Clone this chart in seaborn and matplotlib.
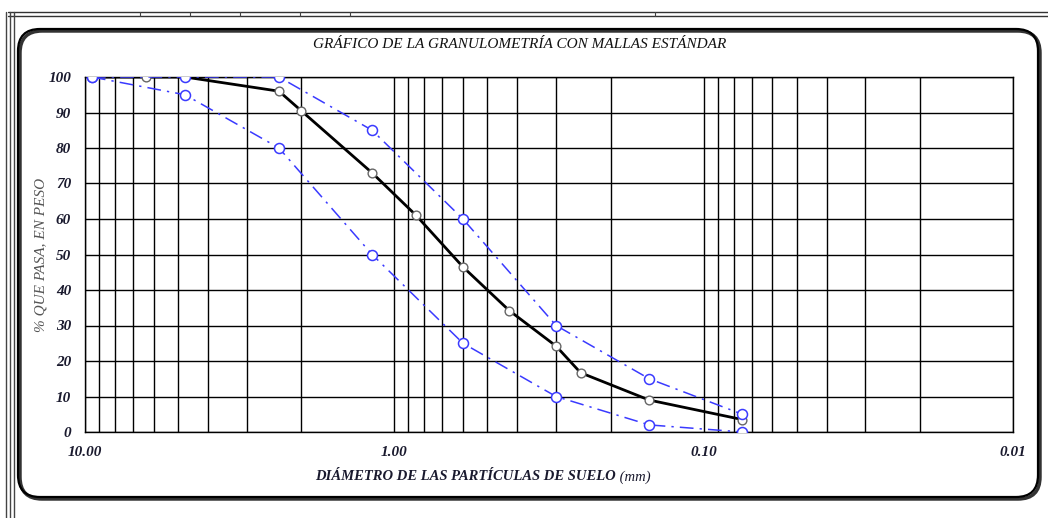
import numpy as np
import pandas as pd
import matplotlib
matplotlib.use("Agg")
import matplotlib.pyplot as plt
import seaborn as sns
from matplotlib.patches import FancyBboxPatch
from matplotlib.lines import Line2D
from matplotlib.ticker import FixedLocator, LogLocator, NullFormatter, FixedFormatter

# ---- data ----
sieve_mm = [9.5, 6.35, 4.75, 2.36, 2.0, 1.18, 0.85, 0.6, 0.425, 0.3, 0.25, 0.15, 0.075]
passing = [100, 100, 100, 96, 90.5, 73, 61, 46.5, 34.2, 24.2, 16.7, 9.0, 3.5]

limit_mm = [9.5, 4.75, 2.36, 1.18, 0.6, 0.3, 0.15, 0.075]
upper_limit = [100, 100, 100, 85, 60, 30, 15, 5]
lower_limit = [100, 95, 80, 50, 25, 10, 2, 0]

x_ticks = [10, 1, 0.1, 0.01]
x_tick_labels = ["10.00", "1.00", "0.10", "0.01"]
y_ticks = [0, 10, 20, 30, 40, 50, 60, 70, 80, 90, 100]

title = "GRÁFICO DE LA GRANULOMETRÍA CON MALLAS ESTÁNDAR"
y_label = "% QUE PASA, EN PESO"
x_label_main = "DIÁMETRO DE LAS PARTÍCULAS DE SUELO"
x_label_unit = " (mm)"

# ---- style ----
sns.set_style("white")
plt.rcParams["font.family"] = ["Liberation Serif", "DejaVu Serif"]

W, H = 1048, 518
fig = plt.figure(figsize=(W / 100, H / 100), dpi=100)
ax = fig.add_axes([85 / W, 1 - 432 / H, (1013 - 85) / W, (432 - 77) / H])

df_main = pd.DataFrame({"d": sieve_mm, "p": passing})
df_up = pd.DataFrame({"d": limit_mm, "p": upper_limit})
df_lo = pd.DataFrame({"d": limit_mm, "p": lower_limit})

blue = "#3a3aff"
sns.lineplot(data=df_main, x="d", y="p", ax=ax, sort=False, color="black",
             linewidth=2.0, marker="o", markersize=6.3, markerfacecolor="white",
             markeredgecolor="#666666", markeredgewidth=1.0, zorder=5)
for df in (df_up, df_lo):
    sns.lineplot(data=df, x="d", y="p", ax=ax, sort=False, color=blue,
                 linewidth=1.1, marker="o", markersize=7.2, markerfacecolor="white",
                 markeredgecolor=blue, markeredgewidth=1.1, zorder=6)
    ax.lines[-1].set_linestyle((0, (9, 4, 1.5, 4)))

ax.set_xscale("log")
ax.set_xlim(10, 0.01)
ax.set_ylim(0, 100)

ax.xaxis.set_major_locator(FixedLocator(x_ticks))
ax.xaxis.set_major_formatter(FixedFormatter(x_tick_labels))
ax.xaxis.set_minor_locator(LogLocator(base=10, subs=np.arange(2, 10)))
ax.xaxis.set_minor_formatter(NullFormatter())
ax.set_yticks(y_ticks)

ax.grid(True, which="both", axis="x", color="black", linewidth=1.0)
ax.grid(True, which="major", axis="y", color="black", linewidth=1.0)
ax.set_axisbelow(True)
for s in ax.spines.values():
    s.set_color("black")
    s.set_linewidth(1.0)

ax.tick_params(axis="x", which="major", direction="out", length=6, width=1, color="black",
               pad=4, labelsize=11)
ax.tick_params(axis="x", which="minor", length=0)
ax.tick_params(axis="y", direction="out", length=6, width=1, color="black", pad=4, labelsize=11)
for lab in ax.get_xticklabels() + ax.get_yticklabels():
    lab.set_fontstyle("italic")
    lab.set_fontweight("bold")
    lab.set_color("#1a1a2e")

ax.set_xlabel("")
ax.set_ylabel("")

# axis labels and title
fig.text(520 / W, 1 - 45 / H, title, ha="center", va="center", fontsize=11,
         fontstyle="italic", color="#111111")
fig.text(41 / W, 1 - 255 / H, y_label, ha="center", va="center", rotation=90,
         fontsize=11, fontstyle="italic", color="#555555")
fig.text(616 / W, 1 - 477 / H, x_label_main, ha="right", va="center", fontsize=10.5,
         fontstyle="italic", fontweight="bold", color="#1a1a2e")
fig.text(616 / W, 1 - 477 / H, x_label_unit, ha="left", va="center", fontsize=10.5,
         fontstyle="italic", color="#1a1a2e")

# rounded frame with shadow
shadow = FancyBboxPatch((20, H - 499), 1020, 468, boxstyle="round,pad=0,rounding_size=22",
                        transform=None, facecolor="none", edgecolor="#333333",
                        linewidth=2.5, zorder=0)
frame = FancyBboxPatch((18, H - 497), 1020, 468, boxstyle="round,pad=0,rounding_size=22",
                       transform=None, facecolor="none", edgecolor="black",
                       linewidth=1.6, zorder=1)
fig.patches.extend([shadow, frame])

# spreadsheet border remnants
for yy in (12, 16):
    fig.add_artist(Line2D([8 / W, 1.0], [1 - yy / H, 1 - yy / H], transform=fig.transFigure,
                          color="#333333", linewidth=1.0))
for xx in (6, 10, 14):
    fig.add_artist(Line2D([xx / W, xx / W], [0, 1 - 12 / H], transform=fig.transFigure,
                          color="#444444", linewidth=1.0))
for xx in (140, 190, 240, 300, 350, 655):
    fig.add_artist(Line2D([xx / W, xx / W], [1 - 12 / H, 1 - 16 / H], transform=fig.transFigure,
                          color="#444444", linewidth=0.8))

fig.savefig("out.png", dpi=100)
